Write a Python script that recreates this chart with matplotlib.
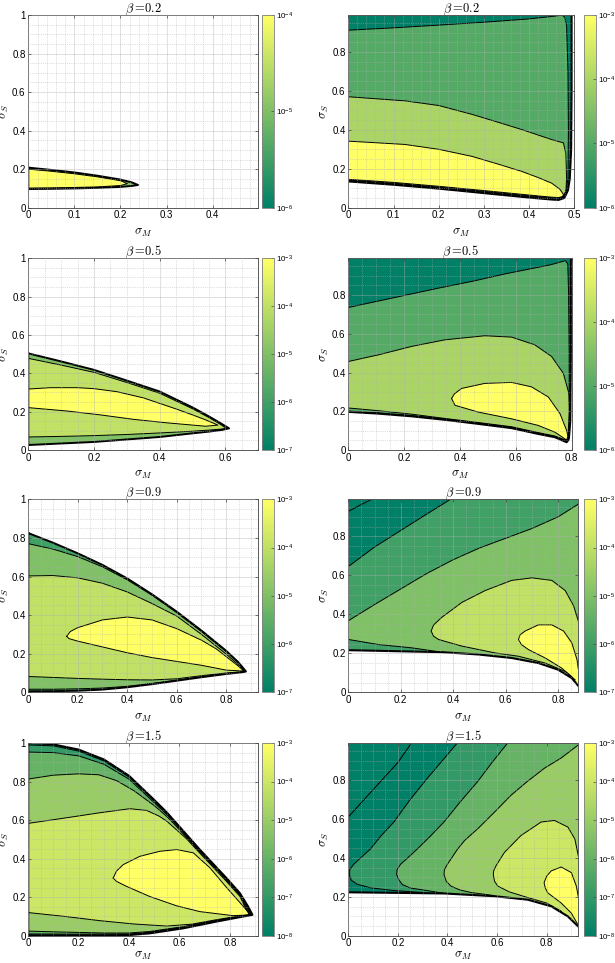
import matplotlib
matplotlib.use('Agg')
import matplotlib.pyplot as plt
from matplotlib.colors import LogNorm
from matplotlib.cm import ScalarMappable
from matplotlib.ticker import MultipleLocator, FuncFormatter, NullLocator

plt.rcParams['font.family'] = ['Liberation Sans', 'DejaVu Sans']
plt.rcParams['mathtext.fontset'] = 'cm'

W, H = 615, 963
cmap = plt.get_cmap('summer')

# ---------- beta = 0.2, left (levels 1e-6 .. 1e-4) ----------
b02L_sx = [0, 0.05, 0.1, 0.15, 0.2, 0.225, 0.238, 0.225, 0.2, 0.15, 0.1, 0.05, 0]
b02L_sy = [0.208, 0.196, 0.183, 0.166, 0.146, 0.131, 0.118, 0.113, 0.108, 0.103, 0.1, 0.098, 0.097]
b02L_yx = [0, 0.05, 0.1, 0.15, 0.2, 0.215, 0.2, 0.15, 0.1, 0.05, 0]
b02L_yy = [0.2, 0.189, 0.176, 0.16, 0.14, 0.125, 0.115, 0.108, 0.105, 0.103, 0.102]

# ---------- beta = 0.5, left (1e-7 .. 1e-3) ----------
b05L_sx = [0, 0.1, 0.2, 0.3, 0.4, 0.5, 0.55, 0.58, 0.611, 0.59, 0.55, 0.5, 0.4, 0.3, 0.2, 0.1, 0]
b05L_sy = [0.504, 0.462, 0.418, 0.362, 0.305, 0.222, 0.175, 0.145, 0.113, 0.105, 0.096, 0.087, 0.068, 0.055, 0.042, 0.034, 0.026]
b05L_lx = [0, 0.1, 0.2, 0.3, 0.4, 0.5, 0.55, 0.58, 0.603, 0.58, 0.55, 0.5, 0.4, 0.3, 0.2, 0.1, 0]
b05L_ly = [0.478, 0.443, 0.405, 0.352, 0.296, 0.215, 0.169, 0.139, 0.112, 0.108, 0.104, 0.098, 0.089, 0.081, 0.075, 0.071, 0.068]
b05L_yx = [0, 0.066, 0.15, 0.2, 0.27, 0.35, 0.45, 0.5, 0.54, 0.577, 0.54, 0.5, 0.42, 0.32, 0.22, 0.12, 0]
b05L_yy = [0.318, 0.325, 0.325, 0.32, 0.304, 0.272, 0.214, 0.183, 0.157, 0.13, 0.124, 0.13, 0.142, 0.16, 0.183, 0.203, 0.221]

# ---------- beta = 0.9, left (1e-7 .. 1e-3) ----------
b09L_sx = [0, 0.1, 0.2, 0.3, 0.4, 0.5, 0.6, 0.7, 0.8, 0.85, 0.88, 0.86, 0.8, 0.7, 0.6, 0.5, 0.4, 0.3, 0.2, 0.1, 0]
b09L_sy = [0.825, 0.775, 0.72, 0.66, 0.59, 0.508, 0.418, 0.32, 0.215, 0.155, 0.108, 0.103, 0.095, 0.078, 0.06, 0.042, 0.026, 0.014, 0.008, 0.006, 0.005]
b09L_mx = [0, 0.1, 0.2, 0.3, 0.4, 0.5, 0.6, 0.7, 0.8, 0.85, 0.877, 0.86, 0.8, 0.7, 0.6, 0.5, 0.4, 0.3, 0.2, 0.1, 0]
b09L_my = [0.77, 0.742, 0.703, 0.65, 0.583, 0.503, 0.413, 0.315, 0.211, 0.152, 0.107, 0.104, 0.097, 0.08, 0.063, 0.046, 0.031, 0.022, 0.018, 0.016, 0.016]
b09L_lx = [0, 0.1, 0.2, 0.3, 0.4, 0.5, 0.6, 0.7, 0.8, 0.85, 0.875, 0.85, 0.8, 0.7, 0.6, 0.5, 0.4, 0.3, 0.2, 0.1, 0]
b09L_ly = [0.603, 0.605, 0.593, 0.565, 0.52, 0.46, 0.395, 0.3, 0.198, 0.142, 0.108, 0.105, 0.1, 0.086, 0.07, 0.064, 0.065, 0.068, 0.072, 0.077, 0.082]
b09L_yx = [0.155, 0.17, 0.2, 0.3, 0.4, 0.5, 0.6, 0.7, 0.76, 0.8, 0.85, 0.872, 0.8, 0.7, 0.6, 0.5, 0.4, 0.3, 0.2, 0.165]
b09L_yy = [0.29, 0.315, 0.335, 0.375, 0.39, 0.375, 0.33, 0.27, 0.225, 0.185, 0.135, 0.11, 0.115, 0.14, 0.16, 0.18, 0.205, 0.235, 0.265, 0.278]

# ---------- beta = 1.5, left (1e-8 .. 1e-3) ----------
b15L_sx = [0, 0.1, 0.2, 0.3, 0.4, 0.5, 0.55, 0.575, 0.628, 0.681, 0.721, 0.787, 0.84, 0.873, 0.89,
           0.84, 0.747, 0.615, 0.483, 0.4, 0.3, 0]
b15L_sy = [1.0, 0.993, 0.966, 0.915, 0.83, 0.705, 0.64, 0.603, 0.525, 0.447, 0.391, 0.299, 0.221, 0.151, 0.108,
           0.096, 0.073, 0.038, 0.012, 0.003, 0.0, 0.0]
b15L_ax = [0, 0.1, 0.2, 0.3, 0.4, 0.5, 0.55, 0.575, 0.628, 0.681, 0.721, 0.787, 0.84, 0.871, 0.887,
           0.84, 0.747, 0.615, 0.483, 0.4, 0.3, 0]
b15L_ay = [0.99, 0.985, 0.958, 0.907, 0.823, 0.699, 0.635, 0.599, 0.521, 0.443, 0.388, 0.296, 0.218, 0.148, 0.108,
           0.098, 0.076, 0.041, 0.015, 0.006, 0.004, 0.004]
b15L_bx = [0, 0.1, 0.2, 0.3, 0.4, 0.5, 0.55, 0.575, 0.628, 0.681, 0.721, 0.787, 0.84, 0.869, 0.885,
           0.84, 0.747, 0.615, 0.483, 0.4, 0.2, 0]
b15L_by = [0.953, 0.95, 0.933, 0.89, 0.812, 0.69, 0.628, 0.593, 0.516, 0.439, 0.384, 0.292, 0.214, 0.145, 0.108,
           0.1, 0.078, 0.044, 0.018, 0.009, 0.008, 0.009]
b15L_cx = [0, 0.1, 0.2, 0.28, 0.35, 0.42, 0.5, 0.55, 0.575, 0.628, 0.681, 0.721, 0.787, 0.84, 0.866, 0.882,
           0.84, 0.747, 0.615, 0.483, 0.4, 0.3, 0.2, 0.1, 0]
b15L_cy = [0.813, 0.833, 0.84, 0.835, 0.805, 0.752, 0.675, 0.618, 0.585, 0.51, 0.434, 0.379, 0.287, 0.209, 0.142, 0.108,
           0.101, 0.08, 0.047, 0.022, 0.014, 0.014, 0.017, 0.02, 0.024]
b15L_dx = [0, 0.152, 0.284, 0.403, 0.47, 0.52, 0.549, 0.575, 0.628, 0.681, 0.721, 0.787, 0.84, 0.863, 0.879,
           0.84, 0.747, 0.65, 0.549, 0.417, 0.284, 0.152, 0]
b15L_dy = [0.583, 0.612, 0.638, 0.659, 0.65, 0.62, 0.595, 0.565, 0.503, 0.428, 0.373, 0.281, 0.204, 0.14, 0.108,
           0.103, 0.083, 0.06, 0.05, 0.061, 0.078, 0.099, 0.12]
b15L_yx = [0.337, 0.35, 0.377, 0.443, 0.522, 0.589, 0.655, 0.721, 0.787, 0.84, 0.873, 0.878,
           0.813, 0.681, 0.589, 0.483, 0.39, 0.35]
b15L_yy = [0.299, 0.335, 0.369, 0.412, 0.438, 0.447, 0.43, 0.352, 0.25, 0.172, 0.122, 0.108,
           0.104, 0.125, 0.155, 0.203, 0.256, 0.282]

# ---------- beta = 0.2, right (1e-6 .. 1e-3) ----------
b02R_fx = [0, 0.1, 0.2, 0.3, 0.4, 0.45, 0.465, 0.478, 0.486, 0.49, 0.493, 0.494, 0.494]
b02R_fy = [0.135, 0.118, 0.098, 0.075, 0.052, 0.042, 0.04, 0.05, 0.09, 0.15, 0.3, 0.6, 0.99]
b02R_mx = [0, 0.1, 0.2, 0.3, 0.4, 0.46, 0.472, 0.479, 0.483, 0.486, 0.487, 0.486, 0.482, 0.476, 0.465,
           0.45, 0.4, 0.3, 0.2, 0.1, 0]
b02R_my = [0.912, 0.924, 0.938, 0.953, 0.97, 0.985, 0.99, 0.98, 0.93, 0.7, 0.4, 0.15, 0.09, 0.055, 0.045,
           0.047, 0.057, 0.08, 0.102, 0.122, 0.139]
b02R_lx = [0, 0.125, 0.2, 0.273, 0.33, 0.383, 0.45, 0.476, 0.481, 0.483, 0.481, 0.474, 0.465,
           0.45, 0.4, 0.3, 0.2, 0.1, 0]
b02R_ly = [0.57, 0.549, 0.525, 0.48, 0.44, 0.402, 0.35, 0.333, 0.28, 0.15, 0.08, 0.055, 0.049,
           0.051, 0.061, 0.084, 0.106, 0.126, 0.142]
b02R_yx = [0, 0.125, 0.2, 0.273, 0.33, 0.383, 0.42, 0.45, 0.468, 0.476, 0.474, 0.465,
           0.45, 0.4, 0.3, 0.2, 0.1, 0]
b02R_yy = [0.342, 0.325, 0.3, 0.264, 0.225, 0.187, 0.155, 0.126, 0.095, 0.068, 0.057, 0.052,
           0.054, 0.065, 0.088, 0.11, 0.13, 0.146]

# ---------- beta = 0.5, right (1e-6 .. 1e-3) ----------
b05R_fx = [0, 0.107, 0.227, 0.346, 0.465, 0.585, 0.68, 0.74, 0.782, 0.79, 0.795, 0.797, 0.797]
b05R_fy = [0.197, 0.188, 0.174, 0.156, 0.135, 0.113, 0.083, 0.066, 0.04, 0.06, 0.15, 0.5, 0.99]
b05R_mx = [0, 0.1, 0.2, 0.323, 0.45, 0.563, 0.65, 0.72, 0.778, 0.786, 0.789, 0.791, 0.791, 0.787, 0.78,
           0.74, 0.68, 0.585, 0.465, 0.346, 0.227, 0.107, 0]
b05R_my = [0.736, 0.767, 0.798, 0.836, 0.873, 0.91, 0.935, 0.955, 0.978, 0.96, 0.8, 0.5, 0.2, 0.07, 0.048,
           0.07, 0.087, 0.117, 0.139, 0.16, 0.178, 0.192, 0.201]
b05R_lx = [0, 0.107, 0.227, 0.346, 0.489, 0.585, 0.668, 0.728, 0.77, 0.79, 0.793, 0.792, 0.786, 0.78,
           0.74, 0.68, 0.585, 0.465, 0.346, 0.227, 0.107, 0]
b05R_ly = [0.457, 0.491, 0.535, 0.569, 0.59, 0.583, 0.543, 0.483, 0.396, 0.292, 0.19, 0.1, 0.055, 0.05,
           0.072, 0.09, 0.12, 0.142, 0.163, 0.185, 0.203, 0.217]
b05R_yx = [0.37, 0.38, 0.406, 0.489, 0.585, 0.656, 0.716, 0.758, 0.782, 0.79, 0.785, 0.776,
           0.74, 0.68, 0.585, 0.465, 0.382]
b05R_yy = [0.266, 0.29, 0.318, 0.344, 0.349, 0.326, 0.274, 0.188, 0.1, 0.049, 0.045, 0.057,
           0.092, 0.127, 0.161, 0.196, 0.231]

# ---------- beta = 0.9, right (1e-7 .. 1e-3) ----------
b09R_fx = [0, 0.178, 0.356, 0.496, 0.623, 0.725, 0.8, 0.852, 0.877]
b09R_fy = [0.216, 0.211, 0.206, 0.194, 0.176, 0.15, 0.116, 0.073, 0.033]
b09R_ax = [0, 0.045, 0.089]
b09R_ay = [0.928, 0.96, 0.99]
b09R_bx = [0.39, 0.3, 0.2, 0.1, 0]
b09R_by = [0.99, 0.915, 0.83, 0.745, 0.645]
b09R_cx = [0.877, 0.8, 0.7, 0.6, 0.5, 0.4, 0.3, 0.2, 0.1, 0, 0, 0.115, 0.242, 0.356]
b09R_cy = [0.965, 0.9, 0.84, 0.79, 0.74, 0.68, 0.61, 0.53, 0.45, 0.367, 0.271, 0.245, 0.228, 0.206]
b09R_dx = [0.877, 0.859, 0.827, 0.776, 0.7, 0.623, 0.522, 0.433, 0.356, 0.325, 0.316, 0.325, 0.344,
           0.433, 0.56, 0.649, 0.751, 0.827, 0.852]
b09R_dy = [0.366, 0.444, 0.522, 0.574, 0.587, 0.574, 0.522, 0.461, 0.384, 0.345, 0.314, 0.288, 0.271,
           0.237, 0.202, 0.185, 0.15, 0.107, 0.08]
b09R_yx = [0.877, 0.872, 0.852, 0.821, 0.776, 0.725, 0.674, 0.655, 0.649, 0.66, 0.687, 0.751, 0.814, 0.865]
b09R_yy = [0.12, 0.168, 0.254, 0.314, 0.346, 0.346, 0.314, 0.295, 0.271, 0.245, 0.219, 0.176, 0.124, 0.064]

# ---------- beta = 1.5, right (1e-8 .. 1e-3) ----------
b15R_fx = [0, 0.2, 0.386, 0.589, 0.724, 0.819, 0.886, 0.928]
b15R_fy = [0.223, 0.22, 0.217, 0.203, 0.185, 0.151, 0.099, 0.047]
b15R_ax = [0, 0.05, 0.1, 0.15, 0.2, 0.255]
b15R_ay = [0.61, 0.68, 0.75, 0.82, 0.89, 0.99]
b15R_bx = [0.44, 0.38, 0.319, 0.25, 0.184, 0.13, 0.089, 0.05, 0.022, 0.006, 0.005, 0.012, 0.035, 0.089, 0.184, 0.3]
b15R_by = [0.99, 0.9, 0.809, 0.7, 0.584, 0.51, 0.445, 0.4, 0.367, 0.34, 0.31, 0.285, 0.265, 0.246, 0.232, 0.222]
b15R_cx = [0.643, 0.58, 0.522, 0.45, 0.386, 0.33, 0.278, 0.24, 0.211, 0.197, 0.195, 0.205, 0.218, 0.25, 0.292, 0.386]
b15R_cy = [0.99, 0.89, 0.792, 0.685, 0.584, 0.51, 0.445, 0.4, 0.367, 0.34, 0.315, 0.285, 0.263, 0.245, 0.237, 0.218]
b15R_dx = [0.928, 0.859, 0.792, 0.72, 0.657, 0.59, 0.522, 0.47, 0.441, 0.4, 0.388, 0.386, 0.395, 0.414, 0.45, 0.495, 0.589]
b15R_dy = [0.98, 0.913, 0.861, 0.79, 0.722, 0.635, 0.549, 0.49, 0.445, 0.367, 0.34, 0.315, 0.28, 0.255, 0.235, 0.222, 0.206]
b15R_ex = [0.928, 0.914, 0.886, 0.832, 0.778, 0.697, 0.63, 0.596, 0.587, 0.585, 0.59, 0.603, 0.65, 0.724, 0.8, 0.86]
b15R_ey = [0.41, 0.497, 0.558, 0.592, 0.584, 0.515, 0.428, 0.359, 0.335, 0.315, 0.28, 0.255, 0.225, 0.196, 0.168, 0.125]
b15R_yx = [0.928, 0.92, 0.9, 0.859, 0.819, 0.8, 0.79, 0.795, 0.805, 0.859, 0.9, 0.925]
b15R_yy = [0.2, 0.255, 0.324, 0.353, 0.333, 0.305, 0.272, 0.245, 0.22, 0.168, 0.116, 0.06]

betas = ['0.2', '0.5', '0.9', '1.5']
clims_left = [(-6, -4), (-7, -3), (-7, -3), (-8, -3)]
clims_right = [(-6, -3), (-6, -3), (-7, -3), (-8, -3)]
xlims_left = [0.499, 0.7, 0.93, 0.913]
xlims_right = [0.5, 0.8, 0.877, 0.928]

# layout in pixels
rows = [(15, 207.7), (258.3, 450), (499.3, 692.3), (743, 935.7)]
right_x1 = [574.3, 571.7, 578.3, 578.3]


def rect(x0, y0, x1, y1):
    return [x0 / W, 1 - y1 / H, (x1 - x0) / W, (y1 - y0) / H]


def closed(ax, xs, ys, frac, lw=0.7):
    ax.fill(xs, ys, color=cmap(frac), lw=0, zorder=1)
    return (list(xs) + [xs[0]], list(ys) + [ys[0]], lw)


def to_right(ax, cx, cy, fx, fy, xmax, ymax, frac):
    keep = [i for i in range(len(fx)) if fx[i] >= cx[-1]]
    xs = list(cx) + [fx[i] for i in keep] + [xmax]
    ys = list(cy) + [fy[i] for i in keep] + [ymax]
    ax.fill(xs, ys, color=cmap(frac), lw=0, zorder=1)
    return (cx, cy, 0.7)


def style(ax, xmax, ymax, xmaj, xminor, beta, xlab_y):
    ax.set_xlim(0, xmax)
    ax.set_ylim(0, ymax)
    ax.xaxis.set_major_locator(MultipleLocator(xmaj))
    ax.xaxis.set_minor_locator(MultipleLocator(xminor))
    ax.yaxis.set_major_locator(MultipleLocator(0.2))
    ax.yaxis.set_minor_locator(MultipleLocator(0.05))
    fmt = FuncFormatter(lambda v, p: '%g' % round(v, 3))
    ax.xaxis.set_major_formatter(fmt)
    ax.yaxis.set_major_formatter(fmt)
    ax.set_axisbelow(False)
    ax.grid(which='major', color='#b0b0b0', lw=0.5, alpha=0.55)
    ax.grid(which='minor', color='#b0b0b0', lw=0.5, ls=':', alpha=0.8)
    ax.tick_params(which='major', direction='in', top=True, right=True, length=2.5,
                   width=0.5, labelsize=7, pad=2, color='0.25')
    ax.tick_params(which='minor', length=0)
    for s in ax.spines.values():
        s.set_color('0.35')
        s.set_linewidth(0.7)
    ax.set_title(r'$\beta =\!%s$' % beta, fontsize=9, pad=2.5)
    ax.set_xlabel(r'$\sigma_M$', fontsize=9)
    ax.set_ylabel(r'$\sigma_S$', fontsize=9)
    ax.xaxis.set_label_coords(0.5, xlab_y)


def cbar(fig, r, lo, hi):
    cax = fig.add_axes(r)
    cb = fig.colorbar(ScalarMappable(norm=LogNorm(10.0 ** lo, 10.0 ** hi), cmap=cmap), cax=cax)
    ks = list(range(lo, hi + 1))
    cb.set_ticks([10.0 ** k for k in ks])
    cb.set_ticklabels([r'$\mathregular{10^{%d}}$' % k for k in ks])
    cax.yaxis.set_minor_locator(NullLocator())
    cax.tick_params(direction='in', length=2.5, width=0.5, labelsize=5.8, pad=1.5, color='0.3')
    cb.outline.set_edgecolor('0.5')
    cb.outline.set_linewidth(0.6)


fig = plt.figure(figsize=(W / 100, H / 100), dpi=100)

left_axes = []
right_axes = []
for i in range(4):
    y0, y1 = rows[i]
    axl = fig.add_axes(rect(28.3, y0, 258.3, y1))
    axr = fig.add_axes(rect(348.3, y0, right_x1[i], y1))
    left_axes.append(axl)
    right_axes.append(axr)
    cbar(fig, rect(262.3, y0, 274, y1), *clims_left[i])
    cbar(fig, rect(584.3, y0, 595.7, y1), *clims_right[i])

# ---- left column ----
ax = left_axes[0]
ln = [closed(ax, b02L_sx, b02L_sy, 0.5, 1.4), closed(ax, b02L_yx, b02L_yy, 1.0)]
for x, y, w in ln:
    ax.plot(x, y, color='k', lw=w, zorder=2)

ax = left_axes[1]
ln = [closed(ax, b05L_sx, b05L_sy, 0.5, 1.4), closed(ax, b05L_lx, b05L_ly, 0.75),
      closed(ax, b05L_yx, b05L_yy, 1.0)]
for x, y, w in ln:
    ax.plot(x, y, color='k', lw=w, zorder=2)

ax = left_axes[2]
ln = [closed(ax, b09L_sx, b09L_sy, 0.25, 1.4), closed(ax, b09L_mx, b09L_my, 0.5),
      closed(ax, b09L_lx, b09L_ly, 0.75), closed(ax, b09L_yx, b09L_yy, 1.0)]
for x, y, w in ln:
    ax.plot(x, y, color='k', lw=w, zorder=2)

ax = left_axes[3]
ln = [closed(ax, b15L_sx, b15L_sy, 0.0, 1.4), closed(ax, b15L_ax, b15L_ay, 0.2),
      closed(ax, b15L_bx, b15L_by, 0.4), closed(ax, b15L_cx, b15L_cy, 0.6),
      closed(ax, b15L_dx, b15L_dy, 0.8), closed(ax, b15L_yx, b15L_yy, 1.0)]
for x, y, w in ln:
    ax.plot(x, y, color='k', lw=w, zorder=2)

# ---- right column ----
ax = right_axes[0]
ax.fill(b02R_fx + [0], b02R_fy + [0.99], color=cmap(0.0), lw=0, zorder=1)
ln = [closed(ax, b02R_mx, b02R_my, 1 / 3), closed(ax, b02R_lx, b02R_ly, 2 / 3),
      closed(ax, b02R_yx, b02R_yy, 1.0), (b02R_fx, b02R_fy, 1.5)]
for x, y, w in ln:
    ax.plot(x, y, color='k', lw=w, zorder=2)

ax = right_axes[1]
ax.fill(b05R_fx + [0], b05R_fy + [0.99], color=cmap(0.0), lw=0, zorder=1)
ln = [closed(ax, b05R_mx, b05R_my, 1 / 3), closed(ax, b05R_lx, b05R_ly, 2 / 3),
      closed(ax, b05R_yx, b05R_yy, 1.0), (b05R_fx, b05R_fy, 1.5)]
for x, y, w in ln:
    ax.plot(x, y, color='k', lw=w, zorder=2)

ax = right_axes[2]
xm, ym = xlims_right[2], 0.99
ax.fill(b09R_fx + [xm, 0], b09R_fy + [ym, ym], color=cmap(0.0), lw=0, zorder=1)
ln = [(b09R_ax, b09R_ay, 0.7),
      to_right(ax, b09R_bx, b09R_by, b09R_fx, b09R_fy, xm, ym, 0.25),
      to_right(ax, b09R_cx, b09R_cy, b09R_fx, b09R_fy, xm, ym, 0.5),
      to_right(ax, b09R_dx, b09R_dy, b09R_fx, b09R_fy, xm, ym, 0.75),
      to_right(ax, b09R_yx, b09R_yy, b09R_fx, b09R_fy, xm, ym, 1.0),
      (b09R_fx, b09R_fy, 1.5)]
for x, y, w in ln:
    ax.plot(x, y, color='k', lw=w, zorder=2)

ax = right_axes[3]
xm, ym = xlims_right[3], 0.99
ax.fill(b15R_fx + [xm, 0], b15R_fy + [ym, ym], color=cmap(0.0), lw=0, zorder=1)
ln = [(b15R_ax, b15R_ay, 0.7),
      to_right(ax, b15R_bx, b15R_by, b15R_fx, b15R_fy, xm, ym, 0.2),
      to_right(ax, b15R_cx, b15R_cy, b15R_fx, b15R_fy, xm, ym, 0.4),
      to_right(ax, b15R_dx, b15R_dy, b15R_fx, b15R_fy, xm, ym, 0.6),
      to_right(ax, b15R_ex, b15R_ey, b15R_fx, b15R_fy, xm, ym, 0.8),
      to_right(ax, b15R_yx, b15R_yy, b15R_fx, b15R_fy, xm, ym, 1.0),
      (b15R_fx, b15R_fy, 1.5)]
for x, y, w in ln:
    ax.plot(x, y, color='k', lw=w, zorder=2)

for i in range(4):
    xl = -0.1 if i < 3 else -0.075
    style(left_axes[i], xlims_left[i], 1.0, 0.1 if i == 0 else 0.2, 0.02 if i == 0 else 0.05, betas[i], xl)
    left_axes[i].yaxis.set_label_coords(-0.075, 0.5)
    style(right_axes[i], xlims_right[i], 0.99, 0.1 if i == 0 else 0.2, 0.02 if i == 0 else 0.05, betas[i], xl)
    right_axes[i].yaxis.set_label_coords(-0.077, 0.5)

fig.savefig('out.png', dpi=100)
